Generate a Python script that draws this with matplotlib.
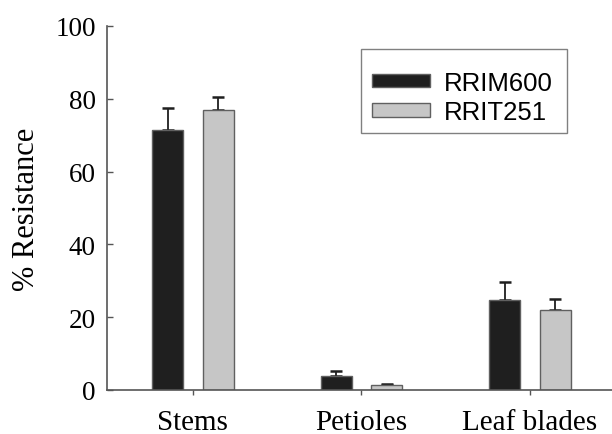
import matplotlib
matplotlib.use("Agg")
import matplotlib.pyplot as plt
from matplotlib.patches import Rectangle
import numpy as np

categories = ["Stems", "Petioles", "Leaf blades"]
series_names = ["RRIM600", "RRIT251"]
rrim600 = [71.5, 3.85, 24.7]
rrim600_err = [6.0, 1.4, 5.1]
rrit251 = [77.0, 1.3, 21.9]
rrit251_err = [3.4, 0.4, 3.2]
yticks = [0, 20, 40, 60, 80, 100]

fig = plt.figure(figsize=(6.12, 4.35), dpi=100)
ax = fig.add_axes([107/612, 1-391/435, 1-107/612, (391-27)/435])

x = np.arange(len(categories))
w = 0.184
off = 0.15
edge = "#606060"
ax.bar(x - off, rrim600, width=w, color="#1f1f1f", edgecolor=edge, linewidth=1.0,
       label=series_names[0], zorder=2)
ax.bar(x + off, rrit251, width=w, color="#c6c6c6", edgecolor=edge, linewidth=1.0,
       label=series_names[1], zorder=2)
ax.errorbar(x - off, rrim600, yerr=[np.zeros(3), rrim600_err], fmt="none",
            ecolor="#1f1f1f", elinewidth=1.3, capsize=4, capthick=1.8, zorder=1)
ax.errorbar(x + off, rrit251, yerr=[np.zeros(3), rrit251_err], fmt="none",
            ecolor="#1f1f1f", elinewidth=1.3, capsize=4, capthick=1.8, zorder=1)

ax.set_xlim(-0.51, 2.487)
ax.set_ylim(0, 100)
ax.set_xticks(x)
ax.set_xticklabels(categories, family="Liberation Serif", fontsize=21)
ax.set_yticks(yticks)
ax.set_yticklabels([str(v) for v in yticks], family="Liberation Serif", fontsize=19.5)
ax.tick_params(axis="y", direction="in", length=4.5, width=1, color="#555555", pad=8)
ax.tick_params(axis="x", direction="out", length=3.5, width=1, color="#555555", pad=10)
for s in ["top", "right"]:
    ax.spines[s].set_visible(False)
for s in ["left", "bottom"]:
    ax.spines[s].set_color("#555555")
    ax.spines[s].set_linewidth(1.2)

ax.set_ylabel("% Resistance", family="Liberation Serif", fontsize=22)
ax.yaxis.set_label_coords(-0.131, 0.5)

# legend frame drawn separately
ax.add_patch(Rectangle(((361-107)/505, (391-134)/364), (567-361)/505, (134-50)/364,
                       transform=ax.transAxes, facecolor="white", edgecolor="#808080",
                       linewidth=1.0, zorder=3, clip_on=False))
leg = ax.legend(loc="upper left", bbox_to_anchor=((372-107)/505, (391-72)/364),
                prop={"family": "Liberation Sans", "size": 18.5},
                handlelength=2.27, handleheight=0.42, handletextpad=0.53,
                labelspacing=0.2, borderpad=0, borderaxespad=0, frameon=False)
leg.set_zorder(4)

fig.savefig("out.png", dpi=100)
